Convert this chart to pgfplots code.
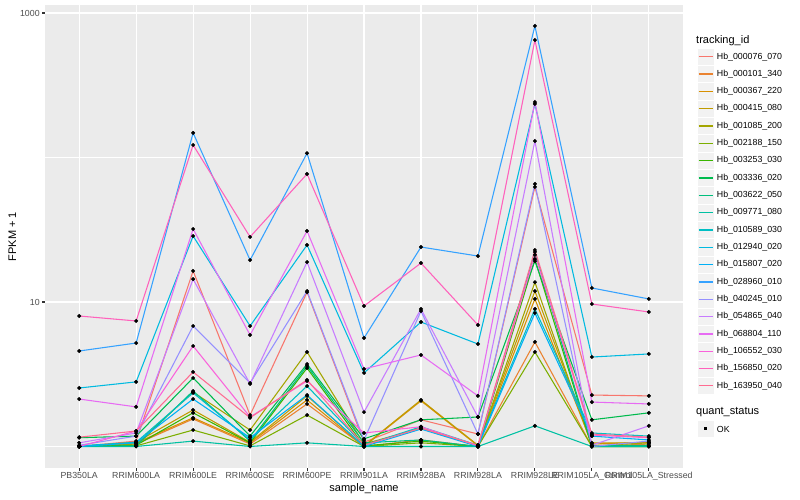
\documentclass[border=0pt]{standalone}
\usepackage{fontspec}
\setmainfont{Liberation Sans}
\usepackage{pgfplots}
\usepackage{pgfplotstable}
\pgfplotsset{compat=1.18}
\definecolor{c1}{HTML}{F8766D}
\definecolor{c2}{HTML}{EA8331}
\definecolor{c3}{HTML}{D89000}
\definecolor{c4}{HTML}{C09B00}
\definecolor{c5}{HTML}{A3A500}
\definecolor{c6}{HTML}{7CAE00}
\definecolor{c7}{HTML}{39B600}
\definecolor{c8}{HTML}{00BB4E}
\definecolor{c9}{HTML}{00BF7D}
\definecolor{c10}{HTML}{00C1A3}
\definecolor{c11}{HTML}{00BFC4}
\definecolor{c12}{HTML}{00BAE0}
\definecolor{c13}{HTML}{00B0F6}
\definecolor{c14}{HTML}{35A2FF}
\definecolor{c15}{HTML}{9590FF}
\definecolor{c16}{HTML}{C77CFF}
\definecolor{c17}{HTML}{E76BF3}
\definecolor{c18}{HTML}{FA62DB}
\definecolor{c19}{HTML}{FF62BC}
\definecolor{c20}{HTML}{FF6C91}
\definecolor{panel}{HTML}{EBEBEB}
\definecolor{tickcol}{HTML}{4D4D4D}
\definecolor{tickmark}{HTML}{333333}
\definecolor{keybg}{HTML}{F2F2F2}

\pgfplotstableread{
x s1 s2 s3 s4 s5 s6 s7 s8 s9 s10 s11 s12 s13 s14 s15 s16 s17 s18 s19 s20
0 1.00 1.00 1.00 1.00 1.00 1.00 1.00 1.15 1.00 1.00 1.01 2.54 1.00 4.58 1.02 1.06 2.13 1.00 8.00 1.16
1 1.09 1.04 1.06 1.07 1.04 1.01 1.02 1.18 1.01 1.00 1.07 2.80 1.06 5.20 1.18 1.24 1.88 1.28 7.39 1.28
2 16.4 1.55 1.58 1.79 2.38 1.30 1.71 2.98 2.42 1.09 2.35 28.6 2.13 148 6.82 14.4 32.0 4.96 122 3.28
3 1.65 1.04 1.06 1.07 1.30 1.01 1.06 1.18 1.09 1.00 1.11 6.82 1.15 19.5 2.75 2.71 5.91 1.60 28.2 1.58
4 11.7 1.97 2.10 2.24 4.51 1.65 3.49 3.72 3.61 1.06 2.62 24.8 2.27 107 11.9 18.9 31.0 2.84 76.9 2.89
5 1.07 1.00 1.00 1.01 1.04 1.00 1.01 1.13 1.06 1.00 1.02 3.23 1.00 5.63 1.11 1.73 3.44 1.24 9.38 1.02
6 1.53 1.11 2.07 2.10 1.34 1.06 1.09 1.53 1.11 1.00 1.37 7.27 1.32 24.0 8.66 8.95 4.30 1.37 18.6 1.34
7 1.22 1.00 1.01 1.02 1.01 1.00 1.00 1.60 1.00 1.00 1.02 5.12 1.00 20.8 1.22 1.60 2.24 1.01 6.93 1.02
8 62.5 5.29 10.5 11.9 13.7 4.51 19.8 19.2 22.2 1.39 8.95 235 8.39 813 65.6 130 242 21.2 650 22.9
9 2.27 1.00 1.04 1.06 1.01 1.00 1.00 1.53 1.01 1.00 1.24 4.16 1.18 12.5 1.00 1.02 2.03 1.20 9.68 1.22
10 2.24 1.04 1.07 1.06 1.06 1.00 1.00 1.71 1.02 1.00 1.18 4.37 1.11 10.5 1.09 1.39 1.97 1.15 8.53 1.16
}\data

\begin{document}
\begin{tikzpicture}[x=1bp,y=1bp]
\path[use as bounding box, fill=white] (0,0) rectangle (800,500);
\begin{axis}[
  at={(45bp,32bp)}, anchor=south west,
  width=638bp, height=463bp, scale only axis,
  xmin=-0.6, xmax=10.6,
  ymode=log, ymin=0.71, ymax=1136,
  axis background/.style={fill=panel},
  axis line style={draw=none},
  xtick={0,1,2,3,4,5,6,7,8,9,10},
  xticklabels={PB350LA,RRIM600LA,RRIM600LE,RRIM600SE,RRIM600PE,RRIM901LA,RRIM928BA,RRIM928LA,RRIM928LE,RRIM105LA\_Control,RRIM105LA\_Stressed},
  ytick={10,1000}, yticklabels={10,1000},
  minor ytick={1,100},
  xmajorgrids, ymajorgrids, yminorgrids,
  major grid style={white, line width=1.07bp},
  minor grid style={white, line width=0.53bp},
  tick pos=left,
  tick align=outside, major tick length=2.75bp, minor tick length=0pt,
  tick style={tickmark, line width=1.07bp},
  xticklabel style={font=\fontsize{8.8bp}{10bp}\selectfont, text=tickcol, anchor=north, inner sep=0pt, yshift=-1.6bp},
  yticklabel style={font=\fontsize{8.8bp}{10bp}\selectfont, text=tickcol, anchor=east, inner sep=0pt, xshift=-2.4bp},
]
\pgfplotsinvokeforeach{1,...,20}{
  \addplot[color=c#1, line width=1.07bp, mark=none] table[x=x, y=s#1]{\data};
}
\pgfplotsinvokeforeach{1,...,20}{
  \addplot[only marks, mark=*, mark size=1.8bp, black] table[x=x, y=s#1]{\data};
}
\end{axis}
% axis titles
\node[anchor=base, inner sep=0pt, font=\fontsize{11bp}{13bp}\selectfont] at (364,8) {sample\_name};
\node[rotate=90, anchor=base, inner sep=0pt, font=\fontsize{11bp}{13bp}\selectfont] at (16,263.5) {FPKM + 1};
% legend
\node[anchor=west, inner sep=0pt, font=\fontsize{11bp}{13bp}\selectfont] at (696,459.3) {tracking\_id};
\foreach \n/\lab in {1/000076\_070,2/000101\_340,3/000367\_220,4/000415\_080,5/001085\_200,6/002188\_150,7/003253\_030,8/003336\_020,9/003622\_050,10/009771\_080,11/010589\_030,12/012940\_020,13/015807\_020,14/028960\_010,15/040245\_010,16/054865\_040,17/068804\_110,18/106552\_030,19/156850\_020,20/163950\_040}{
  \pgfmathsetmacro\yy{443.3-17.33*(\n-1)}
  \filldraw[fill=keybg, draw=white, line width=0.5bp] (697,\yy-8.64) rectangle (714.28,\yy+8.64);
  \draw[c\n, line width=1.07bp] (698.7,\yy) -- (712.6,\yy);
  \node[anchor=west, inner sep=0pt, font=\fontsize{8.8bp}{10bp}\selectfont] at (716.7,\yy) {Hb\_\lab};
}
\node[anchor=west, inner sep=0pt, font=\fontsize{11bp}{13bp}\selectfont] at (696,87.7) {quant\_status};
\filldraw[fill=keybg, draw=white, line width=0.5bp] (697,71-8.64) rectangle (714.28,71+8.64);
\fill[black] (704.14,69.6) rectangle (707.14,72.6);
\node[anchor=west, inner sep=0pt, font=\fontsize{8.8bp}{10bp}\selectfont] at (716.7,71) {OK};
\end{tikzpicture}
\end{document}
